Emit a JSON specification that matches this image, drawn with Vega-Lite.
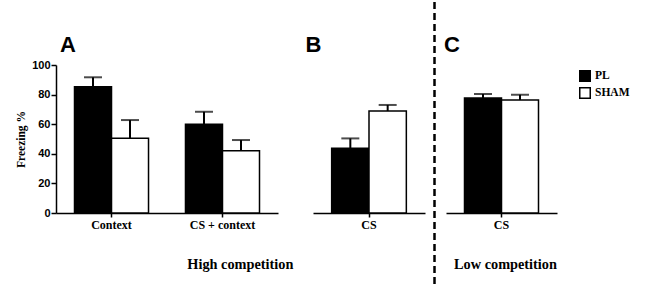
{
  "$schema": "https://vega.github.io/schema/vega-lite/v6.json",
  "background": "white",
  "padding": {"left": 15, "top": 0, "right": 5, "bottom": 0},
  "spacing": 8,
  "datasets": {
    "bars": [
      {"panel": "A", "condition": "Context", "group": "PL", "freezing": 85.3, "upper": 91.7},
      {"panel": "A", "condition": "Context", "group": "SHAM", "freezing": 50.5, "upper": 62.8},
      {"panel": "A", "condition": "CS + context", "group": "PL", "freezing": 60, "upper": 68.4},
      {"panel": "A", "condition": "CS + context", "group": "SHAM", "freezing": 42, "upper": 49.3},
      {"panel": "B", "condition": "CS", "group": "PL", "freezing": 43.7, "upper": 50.4},
      {"panel": "B", "condition": "CS", "group": "SHAM", "freezing": 68.9, "upper": 73},
      {"panel": "C", "condition": "CS", "group": "PL", "freezing": 77.7, "upper": 80.4},
      {"panel": "C", "condition": "CS", "group": "SHAM", "freezing": 76.4, "upper": 79.9}
    ],
    "divider": [{"line": "split"}]
  },
  "resolve": {"scale": {"x": "independent", "y": "independent", "xOffset": "independent", "color": "shared"}},
  "hconcat": [
    {
      "bounds": "flush",
      "spacing": 35,
      "title": {"text": "High competition", "orient": "bottom", "anchor": "middle", "font": "Liberation Serif", "fontSize": 14.3, "fontWeight": "bold", "color": "black", "offset": 28, "dx": 20},
      "resolve": {"scale": {"x": "independent", "y": "independent", "xOffset": "independent", "color": "shared"}},
      "hconcat": [
        {
          "data": {"name": "bars"},
          "transform": [{"filter": "datum.panel === 'A'"}],
          "width": 222,
          "height": 148,
          "title": {"text": "A", "anchor": "start", "frame": "group", "font": "Liberation Sans", "fontSize": 22, "fontWeight": "bold", "color": "black", "offset": 2, "dx": 4},
          "encoding": {
            "x": {"field": "condition", "type": "nominal", "sort": ["Context", "CS + context"], "scale": {"paddingInner": 0.333, "paddingOuter": 0.1667},
              "axis": {"title": null, "labelAngle": 0, "labelFont": "Liberation Serif", "labelFontWeight": "bold", "labelFontSize": 12, "labelColor": "black", "tickSize": 4, "tickColor": "black", "tickWidth": 1.5, "domainColor": "black", "domainWidth": 1.5, "labelPadding": 2}},
            "xOffset": {"field": "group", "type": "nominal", "sort": ["PL", "SHAM"], "scale": {"paddingInner": 0, "paddingOuter": 0}},
            "y": {"field": "freezing", "type": "quantitative", "scale": {"domain": [0, 100], "nice": false},
              "axis": {"title": "Freezing %", "titleFont": "Liberation Serif", "titleFontWeight": "bold", "titleFontSize": 11.5, "titleColor": "black", "titlePadding": 5, "values": [0, 20, 40, 60, 80, 100], "labelFont": "Liberation Sans", "labelFontWeight": "bold", "labelFontSize": 11, "labelColor": "black", "tickColor": "black", "tickWidth": 1.5, "tickSize": 5, "domainColor": "black", "domainWidth": 1.5, "grid": false, "labelPadding": 1}}
          },
          "layer": [
            {"mark": {"type": "bar", "stroke": "black", "strokeWidth": 1.5},
             "encoding": {"color": {"field": "group", "type": "nominal", "scale": {"domain": ["PL", "SHAM"], "range": ["#000000", "#ffffff"]},
               "legend": {"title": null, "orient": "right", "symbolType": "square", "symbolSize": 110, "symbolStrokeColor": "black", "symbolStrokeWidth": 1.5, "labelFont": "Liberation Serif", "labelFontWeight": "bold", "labelFontSize": 11.5, "labelColor": "black", "offset": 17, "padding": 5, "rowPadding": -1}}}},
            {"mark": {"type": "rule", "strokeWidth": 2, "color": "black"}, "encoding": {"y2": {"field": "upper"}}},
            {"mark": {"type": "tick", "thickness": 2, "size": 18, "color": "black"}, "encoding": {"y": {"field": "upper", "type": "quantitative"}}}
          ]
        },
        {
          "data": {"name": "bars"},
          "transform": [{"filter": "datum.panel === 'B'"}],
          "width": 112,
          "height": 148,
          "title": {"text": "B", "anchor": "start", "frame": "group", "font": "Liberation Sans", "fontSize": 22, "fontWeight": "bold", "color": "black", "offset": 8, "dx": -7.5},
          "encoding": {
            "x": {"field": "condition", "type": "nominal", "scale": {"paddingInner": 0.333, "paddingOuter": 0.1667},
              "axis": {"title": null, "labelAngle": 0, "labelFont": "Liberation Serif", "labelFontWeight": "bold", "labelFontSize": 12, "labelColor": "black", "tickSize": 4, "tickColor": "black", "tickWidth": 1.5, "domainColor": "black", "domainWidth": 1.5, "labelPadding": 2}},
            "xOffset": {"field": "group", "type": "nominal", "sort": ["PL", "SHAM"], "scale": {"paddingInner": 0, "paddingOuter": 0}},
            "y": {"field": "freezing", "type": "quantitative", "scale": {"domain": [0, 100], "nice": false}, "axis": null}
          },
          "layer": [
            {"mark": {"type": "bar", "stroke": "black", "strokeWidth": 1.5},
             "encoding": {"color": {"field": "group", "type": "nominal", "scale": {"domain": ["PL", "SHAM"], "range": ["#000000", "#ffffff"]}}}},
            {"mark": {"type": "rule", "strokeWidth": 2, "color": "black"}, "encoding": {"y2": {"field": "upper"}}},
            {"mark": {"type": "tick", "thickness": 2, "size": 18, "color": "black"}, "encoding": {"y": {"field": "upper", "type": "quantitative"}}}
          ]
        }
      ]
    },
    {
      "bounds": "flush",
      "spacing": 11,
      "resolve": {"scale": {"x": "independent", "y": "independent", "xOffset": "independent", "color": "shared"}},
      "hconcat": [
        {
          "data": {"name": "divider"},
          "width": 1,
          "height": 148,
          "mark": {"type": "rule", "strokeDash": [7, 4], "strokeWidth": 2.5, "color": "black"},
          "encoding": {
            "y": {"datum": 142.6, "type": "quantitative", "scale": {"domain": [0, 100], "nice": false}, "axis": null},
            "y2": {"datum": -51}
          }
        },
        {
          "data": {"name": "bars"},
          "transform": [{"filter": "datum.panel === 'C'"}],
          "width": 111,
          "height": 148,
          "title": {"text": "C", "anchor": "start", "frame": "group", "font": "Liberation Sans", "fontSize": 22, "fontWeight": "bold", "color": "black", "offset": 8, "dx": -2},
          "encoding": {
            "x": {"field": "condition", "type": "nominal", "scale": {"paddingInner": 0.333, "paddingOuter": 0.1667},
              "axis": {"title": "Low competition", "titleFont": "Liberation Serif", "titleFontWeight": "bold", "titleFontSize": 14.3, "titleColor": "black", "titlePadding": 27, "titleX": 59, "labelAngle": 0, "labelFont": "Liberation Serif", "labelFontWeight": "bold", "labelFontSize": 12, "labelColor": "black", "tickSize": 4, "tickColor": "black", "tickWidth": 1.5, "domainColor": "black", "domainWidth": 1.5, "labelPadding": 2}},
            "xOffset": {"field": "group", "type": "nominal", "sort": ["PL", "SHAM"], "scale": {"paddingInner": 0, "paddingOuter": 0}},
            "y": {"field": "freezing", "type": "quantitative", "scale": {"domain": [0, 100], "nice": false}, "axis": null}
          },
          "layer": [
            {"mark": {"type": "bar", "stroke": "black", "strokeWidth": 1.5},
             "encoding": {"color": {"field": "group", "type": "nominal", "scale": {"domain": ["PL", "SHAM"], "range": ["#000000", "#ffffff"]}}}},
            {"mark": {"type": "rule", "strokeWidth": 2, "color": "black"}, "encoding": {"y2": {"field": "upper"}}},
            {"mark": {"type": "tick", "thickness": 2, "size": 18, "color": "black"}, "encoding": {"y": {"field": "upper", "type": "quantitative"}}}
          ]
        }
      ]
    }
  ],
  "config": {"view": {"stroke": null}, "axis": {"grid": false}}
}
